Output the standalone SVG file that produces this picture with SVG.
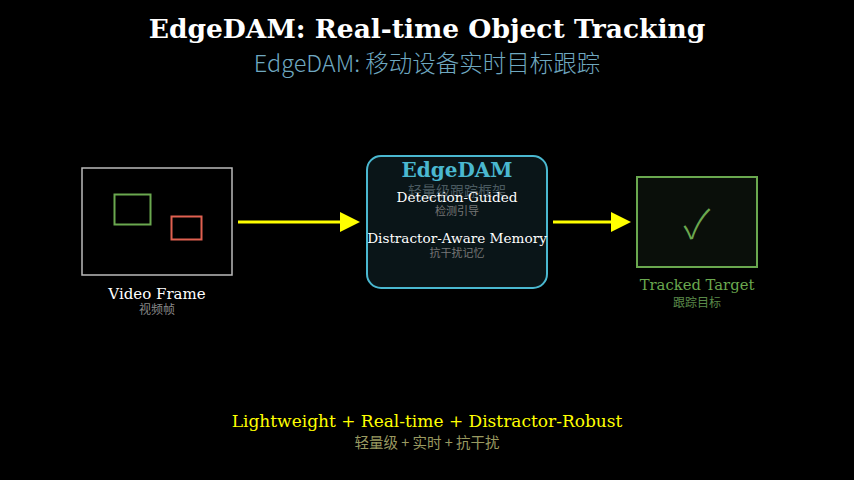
<svg xmlns="http://www.w3.org/2000/svg" width="854" height="480" viewBox="0 0 854 480">
<style>
.s{font-family:"DejaVu Serif",serif;text-anchor:middle}
.c{font-family:"Noto Sans CJK SC",sans-serif;text-anchor:middle}
</style>
<rect width="854" height="480" fill="#000"/>
<text class="s" x="427" y="38" font-size="26.5" font-weight="bold" fill="#fff">EdgeDAM: Real-time Object Tracking</text>
<text class="c" x="427" y="72" font-size="23.5" font-weight="300" fill="#6fa8c0">EdgeDAM: 移动设备实时目标跟踪</text>
<g id="conn" stroke="#ffff00" stroke-width="3">
<line x1="238" y1="222" x2="344" y2="222"/><path d="M340,212L360,222L340,232z" fill="#ffff00" stroke="none"/>
<line x1="553" y1="222" x2="614" y2="222"/><path d="M611,212L631,222L611,232z" fill="#ffff00" stroke="none"/>
</g>
<g id="video">
<rect x="82" y="168" width="150" height="107" fill="none" stroke="#bbb" stroke-width="1.5"/>
<rect x="114.5" y="194.5" width="36" height="30" fill="none" stroke="#6aa84f" stroke-width="2"/>
<rect x="171.5" y="216.5" width="30" height="23" fill="none" stroke="#e06050" stroke-width="2"/>
<text class="s" x="157" y="299" font-size="15" fill="#fff">Video Frame</text>
<text class="c" x="157" y="314" font-size="12" fill="#888">视频帧</text>
</g>
<g id="edgedam">
<rect x="367" y="156" width="180" height="132" rx="14" fill="#0a1518" stroke="#4ab8d0" stroke-width="2"/>
<text class="s" x="457" y="177" font-size="20" font-weight="bold" fill="#4ab8d0">EdgeDAM</text>
<text class="c" x="457" y="196" font-size="14" fill="#4a5a60">轻量级跟踪框架</text>
<text class="s" x="457" y="202" font-size="13.6" fill="#fff">Detection-Guided</text>
<text class="c" x="457" y="215" font-size="11" fill="#777">检测引导</text>
<text class="s" x="457" y="243" font-size="13.6" fill="#fff">Distractor-Aware Memory</text>
<text class="c" x="457" y="257" font-size="11" fill="#777">抗干扰记忆</text>
</g>
<g id="target">
<rect x="637" y="177" width="120" height="90" fill="#0a0f0a" stroke="#6aa84f" stroke-width="2"/>
<text class="c" x="697" y="238" font-size="40" font-weight="300" fill="#6aa84f">✓</text>
<text class="s" x="697" y="290" font-size="14.8" fill="#6aa84f">Tracked Target</text>
<text class="c" x="697" y="307" font-size="12" fill="#5a8a4a">跟踪目标</text>
</g>
<text class="s" x="427" y="427" font-size="17" fill="#ffff00">Lightweight + Real-time + Distractor-Robust</text>
<text class="c" x="427" y="448" font-size="14.5" fill="#9a9a60">轻量级 + 实时 + 抗干扰</text>
</svg>
